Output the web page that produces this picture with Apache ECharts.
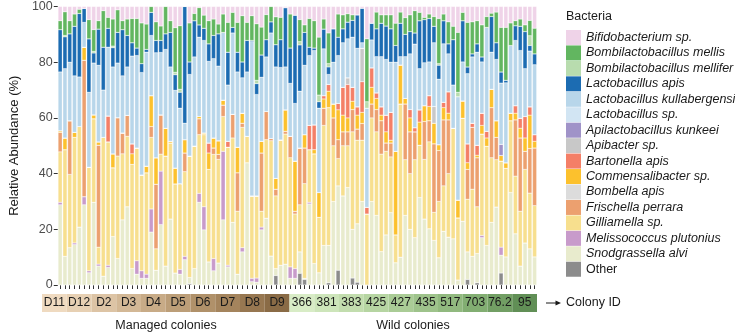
<!DOCTYPE html>
<html>
<head>
<meta charset="utf-8">
<script src="https://cdn.jsdelivr.net/npm/echarts@6/dist/echarts.min.js"></script>
<style>
  html, body { margin: 0; padding: 0; background: #fff; }
  #chart { width: 735px; height: 332px; }
</style>
</head>
<body>
<div id="chart"></div>
<script>
// colonies, 5 bees each
const colonies = ['D11', 'D12', 'D2', 'D3', 'D4', 'D5', 'D6', 'D7', 'D8', 'D9',
  '366', '381', '383', '425', '427', '435', '517', '703', '76.2', '95'];
const colonyColors = ['#efdac0', '#e7d0b3', '#ddc4a5', '#d3b896', '#c8ab87', '#bc9e78', '#b0916a', '#a4845d', '#977751', '#8a6b46',
  '#d8ecc6', '#cde5ba', '#c2ddae', '#b6d5a2', '#aacc96', '#9ec38b', '#91b97f', '#82ae72', '#729f64', '#618f56'];
const yTicks = [0, 20, 40, 60, 80, 100];

// bottom -> top of each stack
const bacteria = ['Other', 'Snodgrassella alvi', 'Melissococcus plutonius', 'Gilliamella sp.', 'Frischella perrara',
  'Bombella apis', 'Commensalibacter sp.', 'Bartonella apis', 'Apibacter sp.', 'Apilactobacillus kunkeei',
  'Lactobacillus sp.', 'Lactobacillus kullabergensis', 'Lactobacillus apis', 'Bombilactobacillus mellifer',
  'Bombilactobacillus mellis', 'Bifidobacterium sp.'];
const colors = ['#8c8c8c', '#e8ebcd', '#c89bcb', '#f7df8e', '#eca06f', '#dcdcdc', '#fcc12d', '#f47f67', '#c8c8c8', '#a093c8',
  '#d2e5f3', '#b8d6ea', '#1c6cb2', '#b8dcae', '#62b660', '#efd3e8'];

// relative abundance (%) per bee
const other = [0,0,0,0,0,0,0,0,0,0, 0,0,0,0,0,0,0,0,0,0, 0,0,0,0,0,0,0,0.5,0,0, 0,0,0,0,0,0,0,0,0,0, 0,0,0,0,0,3.4,0,0,0,0, 4.2,2,0,0,0,0,0.8,0,5.3,0, 0,2.5,1,0,0,0,0,0,0,0, 0,0,0,0,0,0,0,0,0,0, 0,0,0,0,0,2,0,0.8,0,0, 0,0,4.3,0,0,0,0,0,0,0];
const snod = [28.8,10.3,13.4,14.5,20.8,28.8,4.4,29.7,6.8,3.2, 6.3,17.4,9.5,23.4,28.1,5.9,3.9,2.4,2.4,19, 5.3,21.7,6.8,23.7,4.3,3.9,9.1,2.2,5.9,29.7, 19.8,8.3,5.1,7.9,23.4,6.5,22.5,3.9,11.9,43.9, 1.2,1,19.8,24,10.4,2.5,7.1,7.5,2.4,2.4, 7.7,0.4,29.1,7.7,4.4,14.2,13.4,30,30.3,32, 35,17.5,21,30,0,30,25,12,18,26, 8,10,25,20,17,31.4,23.7,20.2,16,9.8, 19.3,17.2,16.6,1.8,22.9,9.9,10.3,10.5,17,14.2, 22.5,28,6.4,10.1,33.2,18.4,6.8,15.1,13,10.1];
const meliss = [0.9,0,0,0.6,0,2.9,0.7,0,0.7,0, 0.8,0,0,0,0,0,4.8,2.7,1.5,8.3, 0,19.2,0,0,0,1.7,1.2,0,0,3.2, 8.3,0,4.4,0,24.6,0.6,0,0,1.5,0, 1.2,1.5,1,0,0,0,0,0,4.1,3.5, 0,0,0.6,0,0,0,0,0,0,0, 0,0,0,0,0,0,0,0,0,0, 0,0,0,0,0,0,0,0,0,0, 0,0,0,0,0,0,0,0,0.8,0, 0,0,2.9,0,0,0,0,0,0,0];
const gilli = [18.1,38.3,26.3,37.9,36.1,0,37.2,30,6.1,49.8, 44.3,24.7,36.8,23.7,25.3,37.4,40.5,34.4,36.4,25.7, 7.7,6.1,39.5,27.3,32,30.8,30.4,43.6,44,21.1, 25.9,33.2,37.4,37.2,12.5,42.4,30.3,22.6,43.2,9.5, 29.6,29.5,5.7,28.2,41.4,26.1,45,46.7,39.2,19.6, 16.9,34,18.9,39.4,19.9,43.1,49.5,20,9.8,18, 15,35,30,22,25.5,30,30,35,30,20, 10,55,20,20,28,18.8,21.4,31.2,10.1,20.2, 16.3,22.8,39.7,22.3,37,18.9,24.1,16.8,36.4,35.6, 23.2,17,30.9,31.8,25.8,20.7,19.7,26.4,20,18.4];
const frisch = [7,0,19.3,0,0,49,0,0,36.6,0, 0,0,13.8,7.5,7.5,0,0,0,0,3.9, 23.2,14.1,0,0,0,0,6.7,0,0,5.7, 0,0,2.3,1.8,4.1,0,8.5,13.8,1.5,0, 0,0,20.9,10.1,0.8,2.4,0,1,7.7,1, 20.4,12.8,0,0,0,6.2,0,10,6.8,5, 5,8,4,6,0,5,8,12,3,5, 0,0,20,15,10,0,13.6,7.6,24.6,18.3, 23.7,19.3,0,0,0,10.7,22.2,17.6,0,0, 18,8,0,0,0,20.2,26.3,6.5,16,20.7];
const bombella = [0,0,0,0,0,0,0,0,0,0, 0,0,0,0,0,0,0,0,0,0, 0,0,0,0,0,0,0,0,0,0, 0,0,0,0,0,0,0,0,0,0, 0,0,0,0,0,0,0,0,0,0, 0,0,0,0,0,0,0,0,0,0, 0,0,0,0,0,0,0,0,0,0, 0,0,0,0,0,0,0,0,0,0, 0,0,0,0,0,0,0,0,0,0, 0,0,0,0,0,0,0,0,0,0];
const commens = [0.6,4.2,0,1.8,0,4.7,0,1.4,1.2,0, 0,5,0,0,0,3.8,0,0,2.4,11.1, 9.5,0,10,0.6,5.7,0,4.8,0,0,0.8, 0.6,5.9,3.6,4.9,1.8,0,0,9.2,3.6,0, 0,0,4.2,0,0,3.9,0,7.7,0,18, 0,4.8,0,1.5,8.9,3.3,5.9,5,10.7,6, 5,3,5,4,0,6,4,2,4,1, 30,14,2,5,0,8.3,5.7,5.1,7.4,2.1, 4.4,2.4,0,6.4,6.2,2.4,0,0.9,3.1,3, 6.6,6,2,2,2.7,2.4,3.5,4.8,12,2.4];
const barton = [0,0,0,0,0,0,0,0,0,0, 9.3,0,0,0,0,3.6,0,0,0,0, 0,0,0,0,0,0,0,0,0,0, 0,3.6,0,0,0,2.1,0,0,0,0, 0,0,0,0,0,0,0,0,0,0, 0,0,8.7,8.9,0,1.2,2.4,0,2.3,10, 12,5,3,11,2.4,7,2,3,6,10, 0,0,0,3,1.5,4.4,0,3.9,0,0, 1.9,7.7,0,0,0,6.8,1.5,3.6,4.4,2.4, 0,0,0,0,0,2.7,3.6,7.7,3,2.4];
const apibacter = [0,0,0,0,0,0,0,0,0,0, 0,0,0,0,0,0,0,0,0,0, 0,0,0,0,0,0,0,0,0,0, 0,0,0,0,0,0,0,0,0,0, 0,0,0,0,0,0,0,0,0,0, 0,0,0,0,0,0,0,0,0,0, 2.4,0,0,12,0,0,0,0,0,0, 0,0,0,0,0,0,0,0,6,0, 0,0,0,0,0,0,0,0,0,0, 0,0,0,0,0,0,0,0,0,0];
const kunkeei = [0,0,0,0,0,0,0,0,0,0, 0,0,0,0,0,0,0,0,0,0, 0,0,0,0,0,0,0,0,0,0, 0,0,0,0,0,0,0,0,0,0, 0,0,0,0,0,0,0,0,0,0, 0,0,0,0,0,0,0,0,0,0, 0,0,0,0,0,0,0,0,0,0, 0,0,0,0,0,0,0,0,0,0, 0,0,0,0,0,0,0,0,0,0, 0,0,4,0,0,0,0,0,0,0];
const lactoSp = [0,0,0,0,0,0,0,0,0,0, 0,0,0,0,0,0,0,0,0,0, 0,0,0,0,0,0,0,0,0,0, 0,0,0,0,0,0,0,0,0,0, 0,0,0,0,0,0,0,0,0,0, 0,0,0,0,0,0,0,0,0,0, 0,0,0,0,0,0,0,0,0,0, 0,0,0,0,0,0,0,0,0,0, 0,0,0,0,0,0,0,0,0,0, 0,0,0,0,0,0,0,0,0,0];
const kull = [21.1,24.9,21,20.3,17.8,8.9,26.9,18.6,27.5,17, 24.7,31.2,19.6,20.5,17.4,31.5,33.2,36.8,40.9,21.6, 37.7,22.4,28.3,26.7,27.9,27.1,5.9,29.3,32,28.5, 33.2,29.3,28.5,26.8,24.3,20.2,29.2,27,12.7,23.1, 55.4,36.4,23,19.6,37.9,40,26,15.4,19,20.7, 20.4,24.9,25.1,26.7,30.3,16.8,3.6,15,17.2,16, 14,18,21,2,35.6,10,13,18,20,18, 32,3,15,20,30,14.8,15.4,12.1,22.9,23.5, 21,13.6,15.5,37.1,14,25.2,23.8,33.4,18.4,37.3, 13.3,22,22,28.7,24.3,23.4,24.3,17.2,20,25.1];
const apis = [15.2,11.4,10.2,17.8,22.8,5,19.2,3.6,13,15.4, 6.8,6.9,11,16.6,11.3,4.8,2.7,3.2,1,8.3, 4.4,4.3,5.6,12.4,5.6,5.7,41.9,4.5,13,4.4, 4.4,6.3,8.3,11.6,0,11.8,2,7.1,5.7,11.3, 0.4,3.9,8,6.2,4,8,10,21.3,12.7,31.7, 16.6,11.8,3,0.9,2.3,7.1,2.7,12,6.6,5, 6,6,12,12.4,0,6,10,12,12,12, 6,12,8,8,4,17.2,15.5,15.6,5.9,5, 8.3,3.6,16.3,0,14.8,2.4,1.1,3,1.8,0, 12.8,6,4,0.9,0,5.3,8.7,13.3,2,3.9];
const mellifer = [0,0.5,0,0,0,0,0,0.6,0,0, 0,0.6,0,0,0,0,0,0,0,0, 0,0,0,0,0.9,1.1,0,0,0,0, 0,0,0,0,0,0,0,0,0,0, 0,1.2,0,0,0,0,0,0,0,0, 1.2,0,0,0,2.4,0,1.2,0,0,0, 0,0,0,0,2.3,0,0,0,0,0, 0,0,0,0,0,0,0,0,0,0.6, 0,0,0,1.6,0,0,0,0,0,0, 0,0,0,0,0,0,0,0,3.5,0];
const mellis = [3.2,8.5,4.7,4.4,1.5,0,6.9,7.8,3,13.1, 3.9,9.7,8.1,3.2,5.9,8.7,10.6,14.6,9.1,2.1, 6.7,5.2,9.8,4.2,16,22.8,0,14,2.6,6.2, 4.7,8.3,5.9,3.5,6.6,10.7,5.4,10.7,16.6,6.5, 8.9,20.3,10,9,5.5,10,8,0,12.2,0, 7.9,2.7,10.3,9.8,20.8,3.6,11,0,8.3,5, 3,2,0,0,22.6,0,6,3,4,5, 8,4,6,6,8,3,0.8,1.6,3.5,16.2, 2.4,7.9,4.8,21.5,3,16,11.5,8.3,11.5,3.9, 1.2,11,16,19,8.1,1.8,2.6,2.4,5.5,9.2];
const bifido = [5.1,1.9,5.1,2.7,1,0.7,4.7,8.3,5.1,1.5, 3.9,4.5,1.2,5.1,4.5,4.3,4.3,5.9,6.3,0, 5.5,7,0,5.1,7.6,6.9,0,5.9,2.5,0.4, 3.1,5.1,4.5,6.3,2.7,5.7,2.1,5.7,3.3,5.7, 3.3,6.2,7.4,2.9,0,3.7,3.9,0.4,2.7,3.1, 4.7,6.6,4.3,5.1,11,4.5,9.5,8,2.7,3, 2.6,3,3,0.6,11.6,6,2,3,3,3, 6,2,4,3,1.5,2.1,3.9,2.7,3.6,4.3, 2.7,5.5,7.1,9.3,2.1,5.7,5.5,5.1,6.6,3.6, 2.4,2,7.5,7.5,5.9,5.1,4.5,6.6,5,7.8];

const values = [other, snod, meliss, gilli, frisch, bombella, commens, barton, apibacter, kunkeei,
  lactoSp, kull, apis, mellifer, mellis, bifido];

// sample ids: colony + bee number
const samples = colonies.flatMap(c => [1, 2, 3, 4, 5].map(n => c + '_' + n));

const FONT = '"Liberation Sans", Arial, sans-serif';
const chart = echarts.init(document.getElementById('chart'));

const barSeries = bacteria.map((name, i) => ({
  name: name,
  type: 'bar',
  stack: 'abundance',
  xAxisIndex: 0,
  yAxisIndex: 0,
  data: values[i],
  barCategoryGap: '14%',
  itemStyle: { color: colors[i], borderColor: '#fff', borderWidth: 0.3 },
  emphasis: { disabled: true },
  animation: false
}));

const colonySeries = {
  type: 'bar',
  xAxisIndex: 1,
  yAxisIndex: 1,
  barCategoryGap: 0,
  silent: true,
  animation: false,
  data: colonies.map((c, i) => ({ value: 1, itemStyle: { color: colonyColors[i] } })),
  label: {
    show: true,
    position: 'inside',
    formatter: p => colonies[p.dataIndex],
    color: '#1a1a1a',
    fontSize: 12,
    fontFamily: FONT
  }
};

const option = {
  animation: false,
  textStyle: { fontFamily: FONT },
  grid: [
    { left: 42, width: 495, top: 4, height: 281 },
    { left: 42, width: 495, top: 294, height: 18 }
  ],
  xAxis: [
    {
      type: 'category',
      gridIndex: 0,
      data: samples,
      axisLine: { show: false },
      axisTick: { show: true, alignWithLabel: true, interval: 0, length: 4, lineStyle: { color: '#333' } },
      axisLabel: { show: false }
    },
    {
      type: 'category',
      gridIndex: 1,
      data: colonies,
      axisLine: { show: false },
      axisTick: { show: false },
      axisLabel: { show: false }
    }
  ],
  yAxis: [
    {
      type: 'value',
      gridIndex: 0,
      min: yTicks[0],
      max: yTicks[yTicks.length - 1],
      interval: 20,
      splitLine: { show: false },
      axisLine: { show: false },
      axisTick: { show: true, length: 4, lineStyle: { color: '#333' } },
      axisLabel: { color: '#4d4d4d', fontSize: 12.5, margin: 5, fontFamily: FONT },
      name: 'Relative Abundance (%)',
      nameLocation: 'middle',
      nameGap: 30,
      nameTextStyle: { color: '#1a1a1a', fontSize: 13, fontFamily: FONT }
    },
    {
      type: 'value',
      gridIndex: 1,
      min: 0,
      max: 1,
      show: false
    }
  ],
  legend: {
    orient: 'vertical',
    left: 566,
    top: 30,
    padding: 0,
    itemWidth: 15,
    itemHeight: 15,
    itemGap: 0.45,
    icon: 'rect',
    selectedMode: false,
    itemStyle: { borderWidth: 0 },
    textStyle: { color: '#1a1a1a', fontSize: 12.5, fontStyle: 'italic', fontFamily: FONT },
    data: bacteria.slice().reverse().map(n => n === 'Other'
      ? { name: n, textStyle: { fontStyle: 'normal' } }
      : { name: n })
  },
  graphic: [
    { type: 'text', x: 566, y: 17, style: { text: 'Bacteria', fill: '#1a1a1a', fontSize: 12.5, fontFamily: FONT, verticalAlign: 'middle' } },
    { type: 'line', shape: { x1: 546, y1: 303, x2: 557, y2: 303 }, style: { stroke: '#1a1a1a', lineWidth: 1 } },
    { type: 'polygon', shape: { points: [[555.5, 300.5], [561, 303], [555.5, 305.5]] }, style: { fill: '#1a1a1a' } },
    { type: 'text', x: 566, y: 303, style: { text: 'Colony ID', fill: '#1a1a1a', fontSize: 12.5, fontFamily: FONT, verticalAlign: 'middle' } },
    { type: 'text', x: 166, y: 326, style: { text: 'Managed colonies', fill: '#1a1a1a', fontSize: 12.5, fontFamily: FONT, align: 'center', verticalAlign: 'middle' } },
    { type: 'text', x: 413, y: 326, style: { text: 'Wild colonies', fill: '#1a1a1a', fontSize: 12.5, fontFamily: FONT, align: 'center', verticalAlign: 'middle' } }
  ],
  series: barSeries.concat([colonySeries])
};

chart.setOption(option);
</script>
</body>
</html>
